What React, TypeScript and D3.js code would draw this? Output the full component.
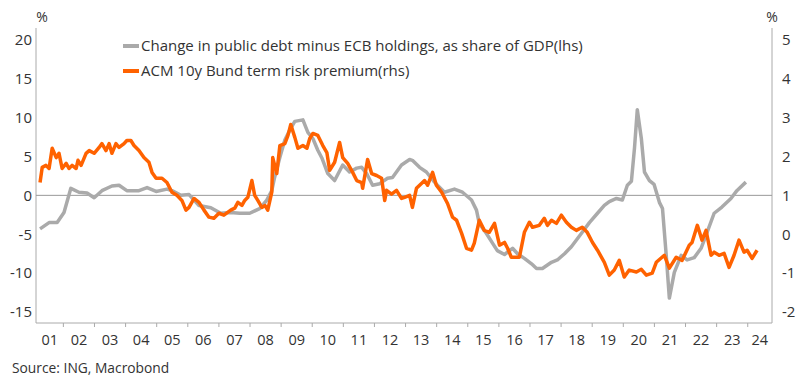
import React from 'react';
import * as d3 from 'd3';

// change in public debt minus ECB holdings, % of GDP (lhs)
const debtDates = [
  2001.25, 2001.54, 2001.8, 2002.02, 2002.24, 2002.5, 2002.76, 2002.99, 2003.24, 2003.56,
  2003.79, 2004.04, 2004.43, 2004.69, 2004.98, 2005.33, 2005.49, 2005.78, 2006.04, 2006.36,
  2006.74, 2007.06, 2007.38, 2007.67, 2007.99, 2008.31, 2008.54, 2008.7, 2008.79, 2008.96,
  2009.12, 2009.28, 2009.44, 2009.7, 2009.86, 2010.02, 2010.18, 2010.31, 2010.5, 2010.72,
  2010.98, 2011.2, 2011.43, 2011.59, 2011.75, 2011.94, 2012.17, 2012.42, 2012.58, 2012.87,
  2013.13, 2013.22, 2013.45, 2013.67, 2013.93, 2014.25, 2014.57, 2014.83, 2015.12, 2015.28,
  2015.37, 2015.6, 2015.79, 2015.95, 2016.18, 2016.44, 2016.6, 2016.82, 2017.05, 2017.21,
  2017.4, 2017.69, 2017.88, 2018.11, 2018.33, 2018.65, 2018.91, 2019.17, 2019.39, 2019.55,
  2019.78, 2019.97, 2020.13, 2020.26, 2020.36, 2020.45, 2020.58, 2020.68, 2020.84, 2020.99,
  2021.16, 2021.26, 2021.38, 2021.48, 2021.64, 2021.86, 2022.05, 2022.28, 2022.5, 2022.69,
  2022.92, 2023.17, 2023.46, 2023.65, 2023.94,
];
const debtValues = [
  -4.3, -3.5, -3.5, -2.2, 0.9, 0.4, 0.3, -0.3, 0.6, 1.2,
  1.3, 0.6, 0.6, 1.0, 0.5, 0.8, 0.6, 0.0, 0.1, -1.3,
  -1.6, -2.3, -2.2, -2.3, -2.3, -1.7, -0.6, 0.6, 2.3, 4.9,
  7.1, 8.4, 9.5, 9.7, 8.1, 7.3, 5.8, 4.8, 2.8, 1.9,
  3.9, 3.0, 3.5, 3.6, 2.8, 1.3, 1.5, 2.2, 2.3, 3.9,
  4.6, 4.5, 3.6, 3.0, 1.7, 0.4, 0.8, 0.4, -0.6, -1.9,
  -3.6, -4.9, -6.1, -7.1, -7.6, -6.8, -7.5, -8.1, -8.8, -9.4,
  -9.4, -8.6, -8.3, -7.5, -6.6, -4.9, -3.5, -2.3, -1.3, -0.8,
  -0.4, -0.6, 1.3, 1.8, 6.1, 11.0, 7.3, 3.0, 1.9, 1.4,
  -0.9, -1.7, -7.7, -13.2, -9.9, -7.7, -8.3, -8.0, -6.8, -4.8,
  -2.3, -1.5, -0.4, 0.6, 1.7,
];

// ACM 10y Bund term risk premium, % (rhs)
const termDates = [
  2001.25, 2001.32, 2001.44, 2001.54, 2001.64, 2001.77, 2001.86, 2001.96, 2002.09, 2002.18,
  2002.28, 2002.41, 2002.47, 2002.57, 2002.73, 2002.83, 2002.99, 2003.15, 2003.24, 2003.37,
  2003.47, 2003.56, 2003.69, 2003.79, 2003.95, 2004.04, 2004.17, 2004.27, 2004.43, 2004.59,
  2004.75, 2004.85, 2004.98, 2005.17, 2005.33, 2005.49, 2005.65, 2005.81, 2005.94, 2006.04,
  2006.2, 2006.36, 2006.52, 2006.68, 2006.84, 2007.0, 2007.16, 2007.38, 2007.51, 2007.61,
  2007.74, 2007.83, 2007.93, 2008.06, 2008.15, 2008.25, 2008.38, 2008.48, 2008.57, 2008.7,
  2008.73, 2008.86, 2008.96, 2009.12, 2009.22, 2009.31, 2009.44, 2009.54, 2009.7, 2009.83,
  2009.92, 2010.02, 2010.18, 2010.34, 2010.47, 2010.56, 2010.72, 2010.88, 2010.98, 2011.14,
  2011.3, 2011.43, 2011.59, 2011.62, 2011.78, 2011.91, 2012.07, 2012.23, 2012.33, 2012.39,
  2012.55, 2012.71, 2012.87, 2012.97, 2013.13, 2013.22, 2013.35, 2013.52, 2013.61, 2013.71,
  2013.87, 2013.99, 2014.16, 2014.35, 2014.51, 2014.64, 2014.8, 2014.96, 2015.12, 2015.21,
  2015.37, 2015.53, 2015.69, 2015.86, 2016.02, 2016.18, 2016.28, 2016.4, 2016.66, 2016.82,
  2016.98, 2017.08, 2017.3, 2017.46, 2017.56, 2017.69, 2017.85, 2018.01, 2018.17, 2018.33,
  2018.49, 2018.68, 2018.84, 2019.01, 2019.17, 2019.39, 2019.55, 2019.71, 2019.87, 2020.03,
  2020.19, 2020.42, 2020.58, 2020.74, 2020.93, 2021.06, 2021.32, 2021.48, 2021.7, 2021.89,
  2022.12, 2022.21, 2022.38, 2022.53, 2022.66, 2022.82, 2022.92, 2023.08, 2023.24, 2023.4,
  2023.56, 2023.72, 2023.88, 2023.98, 2024.14, 2024.3,
];
const termValues = [
  1.33, 1.72, 1.77, 1.69, 2.21, 1.97, 2.08, 1.69, 1.82, 1.69,
  1.77, 1.69, 1.9, 1.77, 2.08, 2.15, 2.08, 2.23, 2.33, 2.15,
  2.33, 2.08, 2.33, 2.23, 2.33, 2.41, 2.41, 2.28, 2.15, 1.97,
  1.85, 1.59, 1.44, 1.44, 1.33, 1.08, 1.0, 0.87, 0.62, 0.69,
  0.92, 0.82, 0.62, 0.44, 0.41, 0.54, 0.49, 0.62, 0.67, 0.82,
  0.74, 0.87, 0.95, 1.38, 1.0, 0.87, 0.69, 0.74, 0.62, 1.08,
  1.97, 1.56, 2.28, 2.33, 2.54, 2.82, 2.49, 2.21, 2.28, 2.21,
  2.46, 2.59, 2.54, 2.28, 2.1, 1.64, 1.85, 2.36, 1.97, 1.82,
  1.59, 1.38, 1.33, 1.18, 1.92, 1.56, 1.51, 1.44, 0.87, 1.13,
  1.03, 1.13, 0.92, 0.95, 1.0, 0.69, 1.18, 1.31, 1.38, 1.26,
  1.59, 1.26, 1.08, 0.79, 0.44, 0.36, 0.03, -0.36, -0.41, -0.23,
  0.36, 0.1, 0.05, 0.28, -0.28, -0.21, -0.36, -0.59, -0.59, 0.05,
  0.31, 0.18, 0.23, 0.41, 0.23, 0.36, 0.28, 0.49, 0.31, 0.18,
  0.1, 0.18, 0.05, -0.21, -0.41, -0.72, -1.05, -0.92, -0.67, -1.1,
  -0.92, -0.97, -0.9, -1.05, -1.0, -0.72, -0.54, -0.87, -0.59, -0.67,
  -0.28, -0.21, 0.23, -0.15, 0.1, -0.54, -0.46, -0.54, -0.49, -0.85,
  -0.54, -0.15, -0.46, -0.41, -0.62, -0.41,
];

const leftTicks = [-15, -10, -5, 0, 5, 10, 15, 20];
const rightTicks = [-2, -1, 0, 1, 2, 3, 4, 5];
const yearTicks = d3.range(2002, 2025);
const yearLabels = d3.range(2001, 2025).map((y) => String(y % 100).padStart(2, '0'));

const legendLabels = [
  'Change in public debt minus ECB holdings, as share of GDP(lhs)',
  'ACM 10y Bund term risk premium(rhs)',
];

const GREY = '#aaaaaa';
const ORANGE = '#ff6200';
const TEXT = '#333333';
const FONT = "'Open Sans', sans-serif";

const App = () => {
  const width = 800;
  const height = 384;
  const left = 36;
  const right = 772;
  const top = 28;
  const bottom = 323;

  const x = d3.scaleLinear().domain([2001.12, 2024.78]).range([left, right]);
  const yL = d3.scaleLinear().domain([-16.4, 21.5]).range([bottom, top]);
  // rhs is lhs / 5 shifted by 1, so 0 on the left lines up with 1 on the right
  const yR = d3.scaleLinear().domain([1 - 16.4 / 5, 1 + 21.5 / 5]).range([bottom, top]);

  const debtLine = d3
    .line<number>()
    .x((d, i) => x(debtDates[i]))
    .y((d) => yL(d));
  const termLine = d3
    .line<number>()
    .x((d, i) => x(termDates[i]))
    .y((d) => yR(d));

  // label slots: between year boundaries, clipped to the axis ends
  const edges = [x.domain()[0], ...yearTicks, x.domain()[1]];

  return (
    <svg width={width} height={height} style={{ display: 'block', position: 'absolute', left: 0, top: 0 }}>
      <rect width={width} height={height} fill="#fff" />

      {/* axes frame */}
      <line x1={left} x2={left} y1={top} y2={bottom} stroke={GREY} strokeWidth={1} />
      <line x1={right} x2={right} y1={top} y2={bottom} stroke={GREY} strokeWidth={1} />
      <line x1={left} x2={right} y1={bottom} y2={bottom} stroke={GREY} strokeWidth={1} />
      <line x1={left} x2={right} y1={yL(0)} y2={yL(0)} stroke="#999" strokeWidth={1} />

      {yearTicks.map((t) => (
        <line key={t} x1={x(t)} x2={x(t)} y1={bottom} y2={bottom + 4} stroke={GREY} strokeWidth={1} />
      ))}
      {yearLabels.map((lab, i) => (
        <text
          key={lab}
          x={(x(edges[i]) + x(edges[i + 1])) / 2}
          y={345}
          textAnchor="middle"
          fontFamily={FONT}
          fontSize={14.5}
          fill={TEXT}
        >
          {lab}
        </text>
      ))}

      {leftTicks.map((t) => (
        <text key={t} x={32} y={yL(t)} dy="0.35em" textAnchor="end" fontFamily={FONT} fontSize={15} fill={TEXT}>
          {t}
        </text>
      ))}
      {rightTicks.map((t) => (
        <text key={t} x={782} y={yR(t)} dy="0.35em" textAnchor="start" fontFamily={FONT} fontSize={15} fill={TEXT}>
          {t}
        </text>
      ))}
      <text x={42} y={22} textAnchor="middle" fontFamily={FONT} fontSize={14} fill={TEXT}>%</text>
      <text x={772} y={22} textAnchor="middle" fontFamily={FONT} fontSize={14} fill={TEXT}>%</text>

      <path d={debtLine(debtValues) || ''} fill="none" stroke={GREY} strokeWidth={3.5} strokeLinejoin="round" />
      <path d={termLine(termValues) || ''} fill="none" stroke={ORANGE} strokeWidth={3.5} strokeLinejoin="round" />

      {legendLabels.map((lab, i) => (
        <g key={lab} transform={`translate(123, ${46 + i * 25})`}>
          <line x1={0} x2={16} y1={0} y2={0} stroke={i === 0 ? GREY : ORANGE} strokeWidth={4} />
          <text x={18} y={0} dy="0.35em" fontFamily={FONT} fontSize={15} fill={TEXT}>
            {lab}
          </text>
        </g>
      ))}

      <text x={12} y={373} fontFamily={FONT} fontSize={13.8} fill={TEXT}>Source: ING, Macrobond</text>
    </svg>
  );
};

export default App;
